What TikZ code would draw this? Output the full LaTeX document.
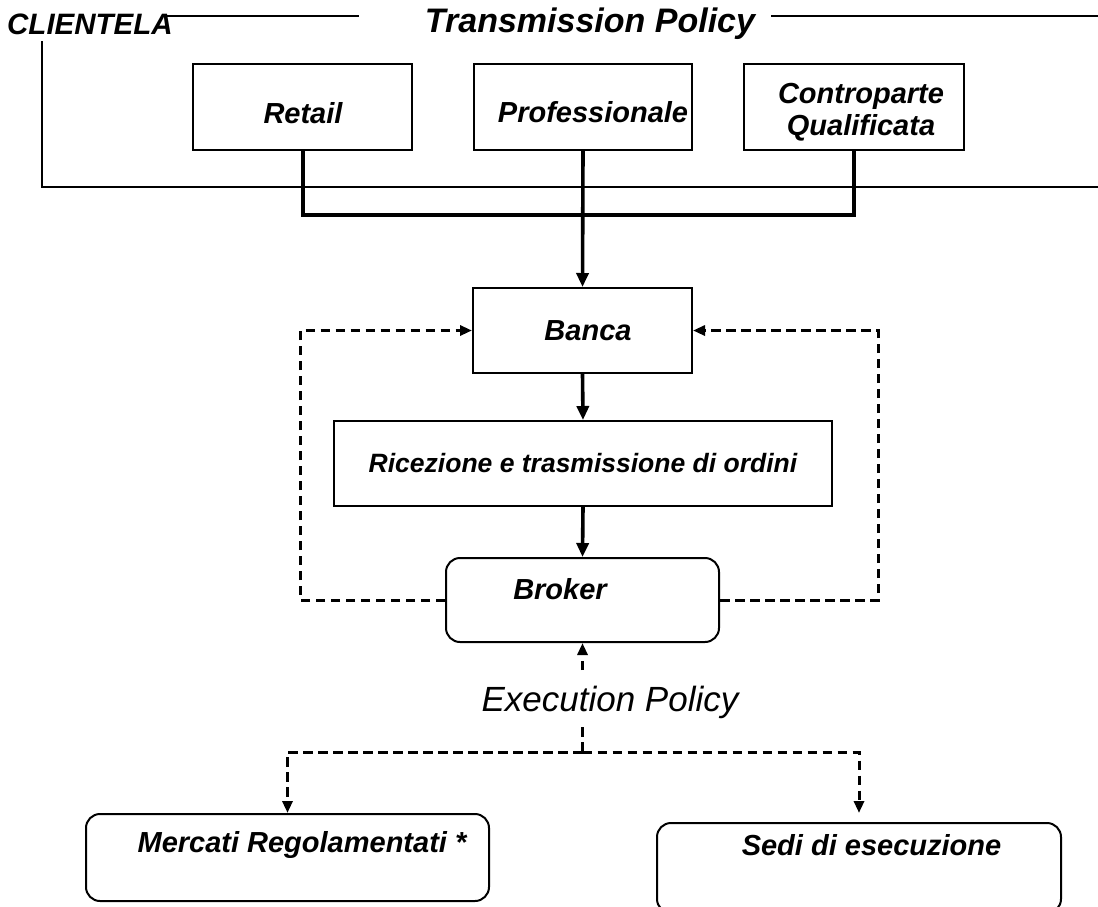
\documentclass[tikz,border=0pt]{standalone}
\usepackage{fontspec}
\setmainfont{Liberation Sans}
\usetikzlibrary{arrows.meta}
\tikzset{
  box/.style={draw=black, line width=2pt, inner sep=0pt},
  rbox/.style={box, rounded corners=14pt},
  lbl/.style={font=\fontsize{29}{33}\selectfont\bfseries\itshape, inner sep=0pt, align=center},
  thinline/.style={line width=2pt},
  conn/.style={line width=3.6pt},
  solidarrow/.style={conn, -{Triangle[length=14pt,width=12pt]}},
  dconn/.style={line width=3pt, dash pattern=on 9.5pt off 5.5pt},
  dashedarrow/.style={dconn, -{Triangle[length=12pt,width=10pt]}},
}
\begin{document}
\begin{tikzpicture}[x=1pt,y=-1pt]
\useasboundingbox (0,0) rectangle (1098,906);

% header
\node[lbl, anchor=west, font=\fontsize{29.5}{33}\selectfont\bfseries\itshape] (clientela) at (7,24) {CLIENTELA};
\node[lbl, font=\fontsize{34}{38}\selectfont\bfseries\itshape] (tp) at (590,24) {Transmission Policy};
\coordinate (tl1) at (166,16);
\coordinate (tl2) at (359,16);
\coordinate (tr1) at (771,16);
\coordinate (tr2) at (1098,16);
\draw[thinline] (tl1) -- (tl2);
\draw[thinline] (tr1) -- (tr2);
\coordinate (cl1) at (42,41);
\coordinate (cl2) at (42,187);
\coordinate (cl3) at (1098,187);
\draw[thinline] (cl1) -- (cl2) -- (cl3);

% client boxes
\node[box, minimum width=219pt, minimum height=86pt] (retail) at (302.5,107) {};
\node[lbl] (retailt) at (303,113) {Retail};
\node[box, minimum width=218pt, minimum height=86pt] (prof) at (583,107) {};
\node[lbl] (proft) at (593,112) {Professionale};
\node[box, minimum width=220pt, minimum height=86pt] (contr) at (854,107) {};
\node[lbl, font=\fontsize{29}{32}\selectfont\bfseries\itshape] (contrt) at (861,112) {Controparte\\Qualificata};

\coordinate (jl) at (303,215);
\coordinate (jr) at (854,215);
\draw[conn] (retail.south -| jl) -- (jl) -- (jr) -- (contr.south -| jr);

% Banca
\node[box, minimum width=219pt, minimum height=85pt] (banca) at (582.5,330.5) {};
\node[lbl] (bancat) at (588,331) {Banca};
\draw[solidarrow] (prof.south) -- (banca.north);

% Ricezione
\node[box, minimum width=498pt, minimum height=85pt] (ric) at (583,463.5) {};
\node[lbl, font=\fontsize{26.5}{30}\selectfont\bfseries\itshape] (rict) at (583,463) {Ricezione e trasmissione di ordini};
\draw[solidarrow] (banca.south) -- (ric.north);

% Broker
\node[rbox, minimum width=273pt, minimum height=84pt] (broker) at (582.5,600) {};
\node[lbl] (brokert) at (560,589) {Broker};
\draw[solidarrow] (ric.south) -- (broker.north);

% feedback loops
\coordinate (dl) at (300,600);
\coordinate (dr) at (878,600);
\draw[dashedarrow] (broker.west) -- (dl) |- (banca.west);
\draw[dashedarrow] (broker.east) -- (dr) |- (banca.east);

% venues
\node[rbox, minimum width=403pt, minimum height=87pt] (merc) at (287.5,857.5) {};
\node[lbl] (merct) at (302,845) {Mercati Regolamentati *};
\node[rbox, minimum width=404pt, minimum height=90pt] (sedi) at (859,868) {};
\node[lbl] (sedit) at (871.5,845) {Sedi di esecuzione};

% execution policy
\node[font=\fontsize{35}{39}\selectfont\itshape, inner sep=0pt] (exec) at (610,702) {Execution Policy};
\coordinate (e1) at (582.5,670);
\draw[dashedarrow] (e1) -- (broker.south);
\coordinate (e2) at (582.5,727);
\coordinate (e3) at (582.5,752);
\coordinate (el) at (287.5,752);
\coordinate (er) at (859,752);
\coordinate (rt) at (859,813);
\draw[dconn] (e2) -- (e3);
\draw[dashedarrow] (e3) -- (el) -- (merc.north);
\draw[dashedarrow] (e3) -- (er) -- (rt);
\end{tikzpicture}
\end{document}
